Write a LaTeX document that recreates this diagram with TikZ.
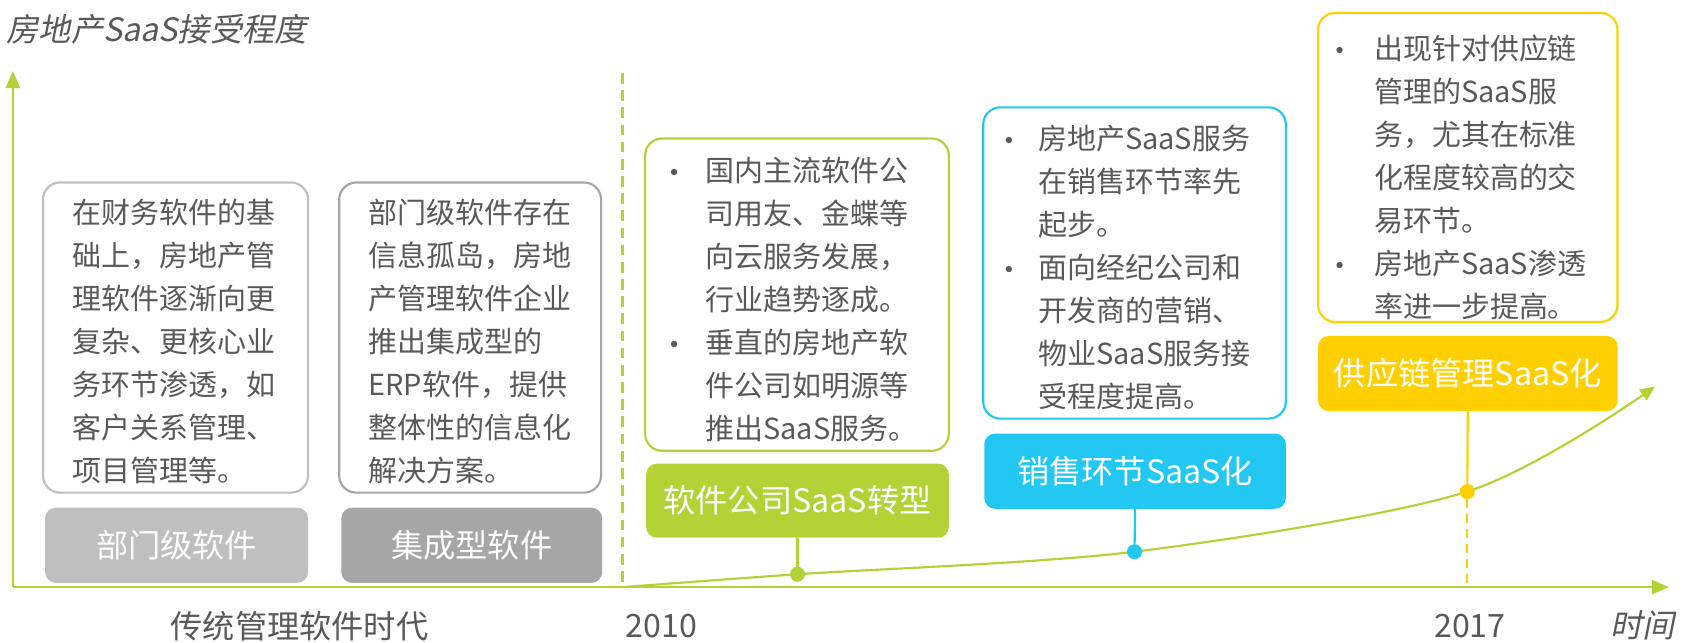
\documentclass[tikz,border=0pt]{standalone}
\usepackage{fontspec}
\setmainfont{Noto Sans CJK SC}
\newfontfamily\cjkit[FakeSlant=0.2]{Noto Sans CJK SC}
\newfontfamily\dvsans{DejaVu Sans}
\usetikzlibrary{arrows.meta}
\definecolor{lime}{HTML}{B3D236}
\definecolor{sky}{HTML}{22C8F2}
\definecolor{gold}{HTML}{FFCF00}
\definecolor{lgray}{HTML}{BFBFBF}
\definecolor{mgray}{HTML}{A6A6A6}
\definecolor{txt}{HTML}{595959}
\newcommand\bulx[1]{\makebox[#1][l]{\raisebox{1pt}{\dvsans\fontsize{20}{20}\selectfont •}}}
\newcommand\indx[1]{\hspace*{#1}}
\tikzset{
  outline/.style={draw, line width=2pt, rounded corners=16pt, fill=white},
  labelbox/.style={rounded corners=10pt, text=white, font=\fontsize{30}{36}\selectfont, inner sep=0},
  body/.style={anchor=north west, inner sep=0, align=left, text=txt, font=\fontsize{27}{40}\selectfont},
  dotn/.style={circle, inner sep=0, minimum size=14pt},
  axis/.style={lime, line width=2.5pt, -{Triangle[length=16pt,width=13pt]}},
  plain/.style={text=txt, inner sep=0, font=\fontsize{30}{36}\selectfont}
}
\begin{document}
\begin{tikzpicture}[x=1pt,y=-1pt]
\useasboundingbox (0,0) rectangle (1568,599);
% axes
\coordinate (ox) at (12,547);
\coordinate (yt) at (12,66);
\coordinate (xe) at (1555,547);
\draw[axis] (ox) -- (yt);
\draw[axis] (ox) -- (xe);
\coordinate (dtop) at (580,68);
\coordinate (dbot) at (580,547);
\draw[lime, line width=2pt, dash pattern=on 10pt off 6pt] (dtop) -- (dbot);
% title
\node[plain, anchor=west, font=\cjkit\fontsize{30}{36}\selectfont] (title) at (6,27) {房地产SaaS接受程度};
% gray boxes
\node[outline, draw=lgray, minimum width=247pt, minimum height=289pt] (b1) at (163.5,314.5) {};
\node[outline, draw=mgray, minimum width=244pt, minimum height=289pt] (b2) at (438,314.5) {};
\node[labelbox, fill=lgray, minimum width=245pt, minimum height=70pt] (l1) at (164.5,508) {部门级软件};
\node[labelbox, fill=mgray, minimum width=243pt, minimum height=70pt] (l2) at (439.5,508) {集成型软件};
\node[body] (t1) at (67,185.5) {在财务软件的基\\础上，房地产管\\理软件逐渐向更\\复杂、更核心业\\务环节渗透，如\\客户关系管理、\\项目管理等。};
\node[body] (t2) at (343,185.5) {部门级软件存在\\信息孤岛，房地\\产管理软件企业\\推出集成型的\\ERP软件，提供\\整体性的信息化\\解决方案。};
% green
\node[outline, draw=lime, minimum width=283pt, minimum height=291pt] (gb) at (742.5,274.5) {};
\node[body] (gt) at (622,146.5) {\bulx{35pt}国内主流软件公\\\indx{35pt}司用友、金蝶等\\\indx{35pt}向云服务发展，\\\indx{35pt}行业趋势逐成。\\\bulx{35pt}垂直的房地产软\\\indx{35pt}件公司如明源等\\\indx{35pt}推出SaaS服务。};
\node[labelbox, fill=lime, minimum width=282pt, minimum height=69pt] (gl) at (743,466.5) {软件公司SaaS转型};
% blue
\node[outline, draw=sky, minimum width=282pt, minimum height=290pt] (bb) at (1057,245) {};
\node[body] (bt) at (934,116.5) {\bulx{33pt}房地产SaaS服务\\\indx{33pt}在销售环节率先\\\indx{33pt}起步。\\\bulx{33pt}面向经纪公司和\\\indx{33pt}开发商的营销、\\\indx{33pt}物业SaaS服务接\\\indx{33pt}受程度提高。};
\node[labelbox, fill=sky, minimum width=281pt, minimum height=70pt] (bl) at (1057.5,439) {销售环节SaaS化};
% yellow
\node[outline, draw=gold, minimum width=279pt, minimum height=288pt] (yb) at (1367.5,156) {};
\node[body] (yt2) at (1242,32.5) {\bulx{38pt}出现针对供应链\\\indx{38pt}管理的SaaS服\\\indx{38pt}务，尤其在标准\\\indx{38pt}化程度较高的交\\\indx{38pt}易环节。\\\bulx{38pt}房地产SaaS渗透\\\indx{38pt}率进一步提高。};
\node[labelbox, fill=gold, minimum width=279pt, minimum height=70pt] (yl) at (1367.5,348) {供应链管理SaaS化};
% curve
\draw[lime, line width=2pt, -{Triangle[length=14pt,width=12pt]}] plot[smooth, tension=0.5] coordinates {(580,547) (743,535) (1057,514) (1367,458) (1542,360)};
\node[dotn, fill=lime] (gd) at (743,535) {};
\node[dotn, fill=sky] (bd) at (1057,514) {};
\node[dotn, fill=gold] (yd) at (1367,458) {};
\draw[lime, line width=2pt] (gl.south) -- (gd);
\draw[sky, line width=2pt] (bl.south) -- (bd);
\draw[gold, line width=2pt] (yl.south) -- (yd);
\draw[gold, line width=2pt, dash pattern=on 8pt off 6pt] (yd) -- (yd |- ox);
% bottom labels
\node[plain] (era) at (279,583) {传统管理软件时代};
\node[plain, anchor=west] (y2010) at (583,583) {2010};
\node[plain, anchor=west] (y2017) at (1336,583) {2017};
\node[plain, anchor=west, font=\cjkit\fontsize{30}{36}\selectfont] (time) at (1500,583) {时间};
\end{tikzpicture}
\end{document}
